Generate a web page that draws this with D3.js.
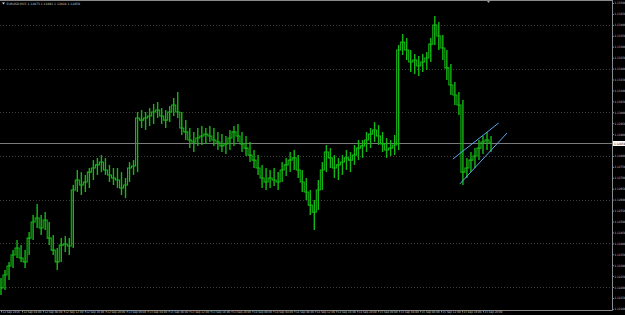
<!DOCTYPE html>
<html>
<head>
<meta charset="utf-8">
<script src="https://cdn.jsdelivr.net/npm/d3@7"></script>
<style>
body{margin:0;background:#000;}
svg{display:block;}
text{font-family:"DejaVu Sans",sans-serif;}
</style>
</head>
<body>
<svg id="chart" width="625" height="315"></svg>
<script>

// EURUSD M15, bars
var symbol = 'EURUSD,M15';
var startTime = new Date(2016, 8, 12, 0, 0);
var barMinutes = 46;

var highs = [1.12241,1.12278,1.12315,1.12369,1.12415,1.12392,1.12369,1.12452,1.12530,1.12580,
	1.12530,1.12543,1.12498,1.12438,1.12379,1.12424,1.12434,1.12424,1.12667,1.12736,
	1.12726,1.12713,1.12745,1.12781,1.12791,1.12804,1.12791,1.12759,1.12745,1.12745,
	1.12726,1.12699,1.12772,1.12781,1.13001,1.13010,1.13001,1.13019,1.13038,1.13047,
	1.13019,1.13010,1.13029,1.13065,1.13093,1.13001,1.12964,1.12928,1.12910,1.12928,
	1.12937,1.12928,1.12937,1.12928,1.12910,1.12900,1.12891,1.12919,1.12937,1.12946,
	1.12910,1.12891,1.12864,1.12827,1.12804,1.12759,1.12745,1.12736,1.12745,1.12726,
	1.12772,1.12791,1.12818,1.12827,1.12804,1.12736,1.12699,1.12644,1.12598,1.12690,
	1.12772,1.12850,1.12836,1.12804,1.12791,1.12804,1.12827,1.12818,1.12850,1.12873,
	1.12873,1.12910,1.12928,1.12955,1.12942,1.12910,1.12882,1.12873,1.12896,1.13308,
	1.13358,1.13340,1.13285,1.13267,1.13257,1.13267,1.13276,1.13340,1.13441,1.13413,
	1.13354,1.13285,1.13221,1.13138,1.13093,1.13056,1.12791,1.12818,1.12836,1.12873,
	1.12891,1.12910,1.12891];

var lows = [1.12164,1.12186,1.12232,1.12287,1.12333,1.12315,1.12287,1.12347,1.12415,1.12470,
	1.12438,1.12461,1.12392,1.12347,1.12278,1.12315,1.12360,1.12347,1.12379,1.12635,
	1.12621,1.12635,1.12653,1.12690,1.12713,1.12726,1.12713,1.12681,1.12667,1.12653,
	1.12621,1.12607,1.12681,1.12713,1.12726,1.12928,1.12919,1.12937,1.12946,1.12974,
	1.12946,1.12928,1.12955,1.12983,1.12974,1.12896,1.12873,1.12836,1.12818,1.12846,
	1.12850,1.12855,1.12864,1.12846,1.12827,1.12818,1.12809,1.12827,1.12846,1.12864,
	1.12818,1.12800,1.12772,1.12745,1.12713,1.12653,1.12644,1.12653,1.12662,1.12644,
	1.12681,1.12708,1.12726,1.12736,1.12699,1.12635,1.12598,1.12530,1.12461,1.12553,
	1.12644,1.12726,1.12745,1.12699,1.12690,1.12713,1.12736,1.12726,1.12759,1.12781,
	1.12791,1.12818,1.12836,1.12864,1.12850,1.12818,1.12791,1.12800,1.12804,1.12827,
	1.13262,1.13239,1.13184,1.13175,1.13166,1.13184,1.13193,1.13230,1.13308,1.13285,
	1.13239,1.13148,1.13079,1.13033,1.12987,1.12667,1.12699,1.12726,1.12745,1.12781,
	1.12809,1.12827,1.12818];

var closes = [1.12196,1.12255,1.12296,1.12347,1.12379,1.12333,1.12315,1.12424,1.12498,1.12516,
	1.12470,1.12507,1.12424,1.12369,1.12315,1.12392,1.12397,1.12388,1.12644,1.12690,
	1.12667,1.12681,1.12726,1.12745,1.12759,1.12772,1.12736,1.12713,1.12699,1.12690,
	1.12653,1.12667,1.12745,1.12754,1.12974,1.12964,1.12974,1.12983,1.13001,1.13010,
	1.12983,1.12964,1.13001,1.13033,1.13001,1.12928,1.12910,1.12873,1.12864,1.12882,
	1.12891,1.12900,1.12891,1.12873,1.12864,1.12846,1.12855,1.12882,1.12910,1.12891,
	1.12855,1.12836,1.12804,1.12781,1.12745,1.12699,1.12681,1.12699,1.12690,1.12681,
	1.12736,1.12759,1.12781,1.12791,1.12736,1.12681,1.12635,1.12575,1.12543,1.12644,
	1.12736,1.12818,1.12791,1.12745,1.12759,1.12772,1.12791,1.12781,1.12804,1.12836,
	1.12846,1.12873,1.12900,1.12919,1.12891,1.12855,1.12827,1.12836,1.12850,1.13285,
	1.13321,1.13285,1.13230,1.13239,1.13212,1.13230,1.13248,1.13312,1.13399,1.13349,
	1.13294,1.13203,1.13125,1.13079,1.13033,1.12726,1.12745,1.12781,1.12800,1.12836,
	1.12864,1.12873,1.12859];

// right scale labels and grid levels
var priceLabels = [1.1350,1.1345,1.1340,1.1335,1.1330,1.1325,1.1320,1.1315,1.1310,1.1305,
	1.1300,1.1295,1.1290,1.1285,1.1280,1.1275,1.1270,1.1265,1.1260,1.1255,
	1.1250,1.1245,1.1240,1.1235,1.1230,1.1225,1.1220,1.1215,1.1210];
var gridPrices = [1.1340,1.1320,1.1300,1.1280,1.1260,1.1240,1.1220];

// hand drawn channel
var channelLines = [
	{ t1: new Date(2016, 8, 15, 14, 15), p1: 1.12786, t2: new Date(2016, 8, 15, 23, 0), p2: 1.12951 },
	{ t1: new Date(2016, 8, 15, 15, 35), p1: 1.12672, t2: new Date(2016, 8, 16, 0, 35), p2: 1.12905 }
];

//--------------------------------------------------

var plotRight = 612;
var plotBottom = 310;
var barCol = '#14b814';
var axisCol = '#8a8a8a';
var textCol = '#c8c8c8';
var fontSize = '3px';

var bars = closes.map(function(c, i){
	return {
		time: new Date(startTime.getTime() + i * barMinutes * 60000),
		open: i > 0 ? closes[i-1] : lows[i],
		high: highs[i],
		low: lows[i],
		close: c
	};
});

var x = d3.scaleTime()
	.domain([startTime, new Date(startTime.getTime() + 92 * 3600000)])
	.range([1, 483]);
var y = d3.scaleLinear()
	.domain([1.1350, 1.1210])
	.range([3, 308.9]);

var svg = d3.select('#chart');
svg.append('rect').attr('width', 625).attr('height', 315).attr('fill', '#000');

// grid
svg.append('g').selectAll('line')
	.data(gridPrices)
	.enter()
	.append('line')
	.attr('x1', 0).attr('x2', plotRight)
	.attr('y1', function(d){ return Math.round(y(d)) + 0.5 })
	.attr('y2', function(d){ return Math.round(y(d)) + 0.5 })
	.attr('stroke', '#3c3c3c')
	.attr('stroke-dasharray', '1,2');

// current price line
var last = bars[bars.length - 1];
svg.append('line')
	.attr('x1', 0).attr('x2', plotRight)
	.attr('y1', Math.round(y(last.close)) + 0.5)
	.attr('y2', Math.round(y(last.close)) + 0.5)
	.attr('stroke', '#7a7a7a');

// bars - at this zoom MT4 bars blend into a band, so join open and close ticks
var barG = svg.append('g')
	.attr('stroke', barCol)
	.attr('stroke-width', 1.1);

var stepPath = d3.line()
	.x(function(d){ return x(d.time) })
	.y(function(d){ return y(d.close) })
	.curve(d3.curveStep);

barG.append('path')
	.datum(bars)
	.attr('d', stepPath)
	.attr('fill', 'none');

barG.selectAll('.hl')
	.data(bars)
	.enter()
	.append('line')
	.attr('class', 'hl')
	.attr('x1', function(d){ return x(d.time) })
	.attr('x2', function(d){ return x(d.time) })
	.attr('y1', function(d){ return y(d.high) })
	.attr('y2', function(d){ return y(d.low) })
	.attr('stroke-width', 1.4);

// channel
svg.append('g').selectAll('line')
	.data(channelLines)
	.enter()
	.append('line')
	.attr('x1', function(d){ return x(d.t1) })
	.attr('y1', function(d){ return y(d.p1) })
	.attr('x2', function(d){ return x(d.t2) })
	.attr('y2', function(d){ return y(d.p2) })
	.attr('stroke', '#5aa8ec')
	.attr('stroke-width', 1);

// frame
svg.append('line').attr('x1', 0).attr('x2', plotRight + 0.5).attr('y1', 0.5).attr('y2', 0.5).attr('stroke', axisCol);
svg.append('line').attr('x1', plotRight + 0.5).attr('x2', plotRight + 0.5).attr('y1', 0).attr('y2', plotBottom + 0.5).attr('stroke', axisCol);
svg.append('line').attr('x1', 0).attr('x2', plotRight + 0.5).attr('y1', plotBottom + 0.5).attr('y2', plotBottom + 0.5).attr('stroke', axisCol);

// right axis
var yAxis = svg.append('g')
	.attr('transform', 'translate(' + (plotRight + 0.5) + ',0)')
	.call(d3.axisRight(y).tickValues(priceLabels).tickSize(1.5).tickFormat(d3.format('.5f')));
yAxis.select('.domain').remove();
yAxis.selectAll('line').attr('stroke', axisCol);
yAxis.selectAll('text')
	.attr('x', 2)
	.attr('fill', textCol)
	.style('font-size', fontSize)
	.style('font-family', 'DejaVu Sans Condensed, DejaVu Sans');

// bottom axis
var fmt = d3.timeFormat('%-d %b %H:%M');
var xAxis = svg.append('g')
	.attr('transform', 'translate(0,' + (plotBottom + 0.5) + ')')
	.call(d3.axisBottom(x).ticks(d3.timeHour.every(4)).tickSize(2)
		.tickFormat(function(d){ return +d === +startTime ? d3.timeFormat('%-d %b %Y')(d) : fmt(d) }));
xAxis.select('.domain').remove();
xAxis.selectAll('line').attr('stroke', axisCol);
xAxis.selectAll('text')
	.attr('x', 1)
	.attr('y', 0.8)
	.attr('fill', textCol)
	.style('text-anchor', 'start')
	.style('font-size', fontSize)
	.style('font-family', 'DejaVu Sans Condensed, DejaVu Sans');

// current price tag
var tagY = Math.round(y(last.close)) + 0.5;
svg.append('rect')
	.attr('x', plotRight + 1).attr('y', tagY - 2.5)
	.attr('width', 12).attr('height', 5)
	.attr('fill', '#fff');
svg.append('text')
	.attr('x', plotRight + 2).attr('y', tagY + 1)
	.attr('fill', '#000')
	.style('font-size', fontSize)
	.style('font-family', 'DejaVu Sans Condensed, DejaVu Sans')
	.text(d3.format('.5f')(last.close));

// title
svg.append('path')
	.attr('d', 'M2,2.5 L5,2.5 L3.5,4.5 Z')
	.attr('fill', '#ddd');
svg.append('text')
	.attr('x', 6.5).attr('y', 5)
	.attr('fill', textCol)
	.style('font-size', fontSize)
	.text(symbol + '  ' + [last.open, last.high, last.low, last.close].map(d3.format('.5f')).join(' '));

// chart shift marker
svg.append('path')
	.attr('d', 'M487,1 L490,1 L488.5,3 Z')
	.attr('fill', '#9a9a9a');

</script>
</body>
</html>
